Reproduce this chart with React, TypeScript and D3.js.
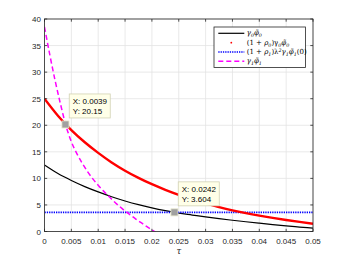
import React from "react";
import * as d3 from "d3";

// tau samples for the smooth curves
const tau = [
  0, 0.0025, 0.005, 0.0075, 0.01, 0.0125, 0.015, 0.0175, 0.02, 0.0225, 0.025,
  0.0275, 0.03, 0.0325, 0.035, 0.0375, 0.04, 0.0425, 0.045, 0.0475, 0.05,
];
const gamma0Phi0 = [
  12.5, 10.9, 9.6, 8.45, 7.45, 6.55, 5.75, 5.05, 4.45, 3.92, 3.45, 3.1, 2.75,
  2.42, 2.12, 1.83, 1.56, 1.3, 1.06, 0.84, 0.62,
];
const rhoGamma0Phi0 = [
  25, 21.8, 19.1, 16.8, 14.8, 13.0, 11.45, 10.1, 8.9, 7.85, 6.9, 6.05, 5.3,
  4.6, 3.98, 3.45, 2.98, 2.56, 2.17, 1.8, 1.45,
];
const tauMag = [
  0, 0.001, 0.002, 0.003, 0.004, 0.005, 0.006, 0.007, 0.008, 0.009, 0.01,
  0.011, 0.012, 0.013, 0.014, 0.015, 0.016, 0.017, 0.018, 0.019, 0.02, 0.021,
];
const gamma1Phi1 = [
  38.5, 33.2, 28.3, 23.9, 19.9, 16.9, 14.7, 12.9, 11.3, 9.9, 8.7, 7.6, 6.6,
  5.6, 4.7, 3.85, 3.1, 2.35, 1.65, 0.95, 0.3, -0.4,
];
const blueLevel = 3.604;

const xTicks = [0, 0.005, 0.01, 0.015, 0.02, 0.025, 0.03, 0.035, 0.04, 0.045, 0.05];
const xTickLabels = ["0", "0.005", "0.01", "0.015", "0.02", "0.025", "0.03", "0.035", "0.04", "0.045", "0.05"];
const yTicks = [0, 5, 10, 15, 20, 25, 30, 35, 40];

const dataTips = [
  { x: 0.0039, y: 20.15, lx: "X: 0.0039", ly: "Y: 20.15" },
  { x: 0.0242, y: 3.604, lx: "X: 0.0242", ly: "Y: 3.604" },
];

type Seg = [string, "n" | "sub" | "sup"];
const legendItems: { label: Seg[]; kind: string }[] = [
  { kind: "black", label: [["γ", "n"], ["0", "sub"], ["φ̃", "n"], ["0", "sub"]] },
  {
    kind: "red",
    label: [["(1 + ", "n"], ["ρ", "n"], ["0", "sub"], [")γ", "n"], ["0", "sub"], ["φ̃", "n"], ["0", "sub"]],
  },
  {
    kind: "blue",
    label: [
      ["(1 + ", "n"], ["ρ", "n"], ["1", "sub"], [")λ", "n"], ["2", "sup"], ["γ", "n"],
      ["1", "sub"], ["φ̃", "n"], ["1", "sub"], ["(0)", "n"],
    ],
  },
  { kind: "magenta", label: [["γ", "n"], ["1", "sub"], ["φ̃", "n"], ["1", "sub"]] },
];

const axisColor = "#262626";
const sans = "'Liberation Sans', Arial, sans-serif";
const serif = "'DejaVu Serif', 'Liberation Serif', serif";

const MathLabel = ({ segs, x, y }: { segs: Seg[]; x: number; y: number }) => {
  let shift = 0;
  return (
    <text x={x} y={y} fontFamily={serif} fontSize={7} fill="#000">
      {segs.map(([t, k], i) => {
        const target = k === "sub" ? 1.8 : k === "sup" ? -2.4 : 0;
        const dy = target - shift;
        shift = target;
        return (
          <tspan key={i} dy={dy} fontSize={k === "n" ? 7 : 4.8} fontStyle={/[0-9()+ ]/.test(t) && k === "n" ? "normal" : "italic"}>
            {t}
          </tspan>
        );
      })}
    </text>
  );
};

const App = () => {
  const width = 346;
  const height = 260;
  const left = 44.5, right = 313, top = 19, bottom = 231.5;

  const x = d3.scaleLinear().domain([0, 0.05]).range([left, right]);
  const y = d3.scaleLinear().domain([0, 40]).range([bottom, top]);

  const line = d3
    .line<[number, number]>()
    .x((d) => x(d[0]))
    .y((d) => y(d[1]))
    .curve(d3.curveMonotoneX);

  const black = line(tau.map((t, i) => [t, gamma0Phi0[i]]));
  const red = line(tau.map((t, i) => [t, rhoGamma0Phi0[i]]));
  const magenta = line(tauMag.map((t, i) => [t, gamma1Phi1[i]]));
  const blue = line([[0, blueLevel], [0.05, blueLevel]]);

  const tl = 2.7;
  const lgX = 214, lgY = 27, lgW = 91.5, lgH = 40.5;
  const rowY = [33.3, 42.7, 52, 61.3];

  return (
    <svg width={width} height={height} style={{ position: "absolute", left: 0, top: 0, background: "#fff" }}>
      <defs>
        <clipPath id="plotClip">
          <rect x={left} y={top} width={right - left} height={bottom - top} />
        </clipPath>
      </defs>
      <rect x={0} y={0} width={width} height={height} fill="#fff" />
      {/* grid */}
      <g stroke="#e3e3e3" strokeWidth={0.8}>
        {xTicks.map((t, i) => (
          <line key={"gx" + i} x1={x(t)} x2={x(t)} y1={top} y2={bottom} />
        ))}
        {yTicks.map((t, i) => (
          <line key={"gy" + i} x1={left} x2={right} y1={y(t)} y2={y(t)} />
        ))}
      </g>
      {/* curves */}
      <g clipPath="url(#plotClip)" fill="none">
        <path d={black || ""} stroke="#000" strokeWidth={1.2} />
        <path d={blue || ""} stroke="#0000ff" strokeWidth={1.6} strokeDasharray="1.3,1" />
        <path d={red || ""} stroke="#ff0000" strokeWidth={2.4} />
        <path d={magenta || ""} stroke="#ff00ff" strokeWidth={1.5} strokeDasharray="5,3" />
      </g>
      {/* axes box + ticks */}
      <rect x={left} y={top} width={right - left} height={bottom - top} fill="none" stroke={axisColor} strokeWidth={0.8} />
      <g stroke={axisColor} strokeWidth={0.8}>
        {xTicks.map((t, i) => (
          <g key={"tx" + i}>
            <line x1={x(t)} x2={x(t)} y1={bottom} y2={bottom - tl} />
            <line x1={x(t)} x2={x(t)} y1={top} y2={top + tl} />
          </g>
        ))}
        {yTicks.map((t, i) => (
          <g key={"ty" + i}>
            <line x1={left} x2={left + tl} y1={y(t)} y2={y(t)} />
            <line x1={right} x2={right - tl} y1={y(t)} y2={y(t)} />
          </g>
        ))}
      </g>
      <g fontFamily={sans} fontSize={8} fill={axisColor}>
        {xTicks.map((t, i) => (
          <text key={"lx" + i} x={x(t)} y={243.5} textAnchor="middle">
            {xTickLabels[i]}
          </text>
        ))}
        {yTicks.map((t, i) => (
          <text key={"ly" + i} x={41} y={y(t) + 3} textAnchor="end">
            {t}
          </text>
        ))}
      </g>
      <text x={(left + right) / 2} y={254} textAnchor="middle" fontFamily={serif} fontStyle="italic" fontSize={8.5} fill={axisColor}>
        τ
      </text>
      {/* data tips */}
      {dataTips.map((d, i) => {
        const mx = x(d.x), my = y(d.y);
        const bx = mx + 3.8, by = my - 6.5 - 24;
        return (
          <g key={"dt" + i}>
            <rect x={bx} y={by} width={41} height={24} fill="#ffffe8" stroke="#d2d2b4" strokeWidth={0.8} />
            <text x={bx + 3.5} y={by + 10.3} fontFamily={sans} fontSize={8} fill="#000">{d.lx}</text>
            <text x={bx + 3.5} y={by + 20.5} fontFamily={sans} fontSize={8} fill="#000">{d.ly}</text>
            <rect x={mx - 3.5} y={my - 3.5} width={7} height={7} fill="#a0a0a0" stroke="#e4e4c8" strokeWidth={0.8} />
          </g>
        );
      })}
      {/* legend */}
      <rect x={lgX} y={lgY} width={lgW} height={lgH} fill="#fff" stroke={axisColor} strokeWidth={0.8} />
      {legendItems.map((it, i) => {
        const ry = rowY[i];
        const x1 = 218.3, x2 = 244.3;
        return (
          <g key={"lg" + i}>
            {it.kind === "black" && <line x1={x1} x2={x2} y1={ry} y2={ry} stroke="#000" strokeWidth={1.2} />}
            {it.kind === "red" && <circle cx={(x1 + x2) / 2} cy={ry} r={0.9} fill="#ff0000" />}
            {it.kind === "blue" && <line x1={x1} x2={x2} y1={ry} y2={ry} stroke="#0000ff" strokeWidth={1.6} strokeDasharray="1.3,1" />}
            {it.kind === "magenta" && <line x1={x1} x2={x2} y1={ry} y2={ry} stroke="#ff00ff" strokeWidth={1.5} strokeDasharray="5,3" />}
            <MathLabel segs={it.label} x={246.7} y={ry + 2} />
          </g>
        );
      })}
    </svg>
  );
};

export default App;
